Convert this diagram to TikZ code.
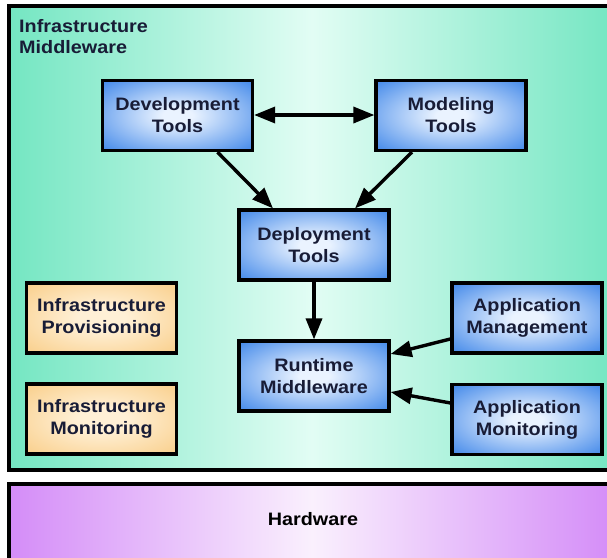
\documentclass[tikz,border=0pt]{standalone}
\usepackage{fontspec}
\setmainfont{Liberation Sans}[FakeStretch=1.1]
\usetikzlibrary{arrows.meta}

\definecolor{mintedge}{RGB}{116,230,194}
\definecolor{mintmid}{RGB}{226,253,244}
\definecolor{lilacedge}{RGB}{212,140,248}
\definecolor{lilacmid}{RGB}{250,240,253}
\definecolor{blueedge}{RGB}{40,120,230}
\definecolor{bluemid}{RGB}{234,243,255}
\definecolor{orangeedge}{RGB}{247,194,110}
\definecolor{orangemid}{RGB}{255,240,214}
\definecolor{inktext}{RGB}{24,28,54}

\pgfdeclareradialshading{blueglow}{\pgfpoint{0bp}{0bp}}{%
  color(0bp)=(bluemid); color(5bp)=(bluemid); color(40bp)=(blueedge); color(72bp)=(blueedge)}
\pgfdeclareradialshading{orangeglow}{\pgfpoint{0bp}{0bp}}{%
  color(0bp)=(orangemid); color(8bp)=(orangemid); color(46bp)=(orangeedge); color(72bp)=(orangeedge)}

\tikzset{
  layer/.style={draw=black, line width=3.2pt},
  compbox/.style={draw=black, line width=3.2pt, minimum width=150pt, minimum height=70pt,
    align=center, font=\fontsize{18}{22}\selectfont\bfseries, text=inktext,
    inner sep=0pt},
  toolbox/.style={compbox, shading=blueglow},
  infrabox/.style={compbox, shading=orangeglow},
  flow/.style={line width=3.4pt, -{Triangle[length=21pt,width=16pt]}},
}

\begin{document}
\begin{tikzpicture}[x=1pt, y=-1pt]
  \useasboundingbox (0,0) rectangle (607,557);

  % middleware layer and hardware layer
  \path[layer, left color=mintedge, right color=mintedge, middle color=mintmid]
    (9,6) rectangle (615,470);
  \path[layer, left color=lilacedge, right color=lilacedge, middle color=lilacmid]
    (9,484) rectangle (615,560);

  \node[anchor=north west, align=left, text=inktext,
        font=\fontsize{18}{21}\selectfont\bfseries, inner sep=0pt]
    (title) at (19,19) {Infrastructure\\Middleware};
  \node[font=\fontsize{18}{22}\selectfont\bfseries, text=black]
    (hw) at (313,519) {Hardware};

  % component boxes
  \node[toolbox] (dev)    at (177.5,115.5) {Development\\Tools};
  \node[toolbox] (model)  at (451,115.5)   {Modeling\\Tools};
  \node[toolbox] (deploy) at (314,245)     {Deployment\\Tools};
  \node[toolbox] (rt)     at (314,376)     {Runtime\\Middleware};
  \node[infrabox] (prov)  at (101.5,318)   {Infrastructure\\Provisioning};
  \node[infrabox] (imon)  at (101.5,419)   {Infrastructure\\Monitoring};
  \node[toolbox] (amgmt)  at (527,318)     {Application\\Management};
  \node[toolbox] (amon)   at (527,419.5)   {Application\\Monitoring};

  % connectors
  \draw[flow, {Triangle[length=21pt,width=16pt]}-{Triangle[length=21pt,width=16pt]}]
    (dev.east |- 0,115) -- (model.west |- 0,115);
  \draw[flow] ([xshift=40pt]dev.south) -- ([xshift=-41pt]deploy.north);
  \draw[flow] ([xshift=-39pt]model.south) -- ([xshift=41pt]deploy.north);
  \draw[flow] (deploy.south) -- (rt.north);
  \draw[flow] (amgmt.west |- 0,339) -- (rt.east |- 0,354);
  \draw[flow] (amon.west |- 0,403) -- (rt.east |- 0,392);
\end{tikzpicture}
\end{document}
